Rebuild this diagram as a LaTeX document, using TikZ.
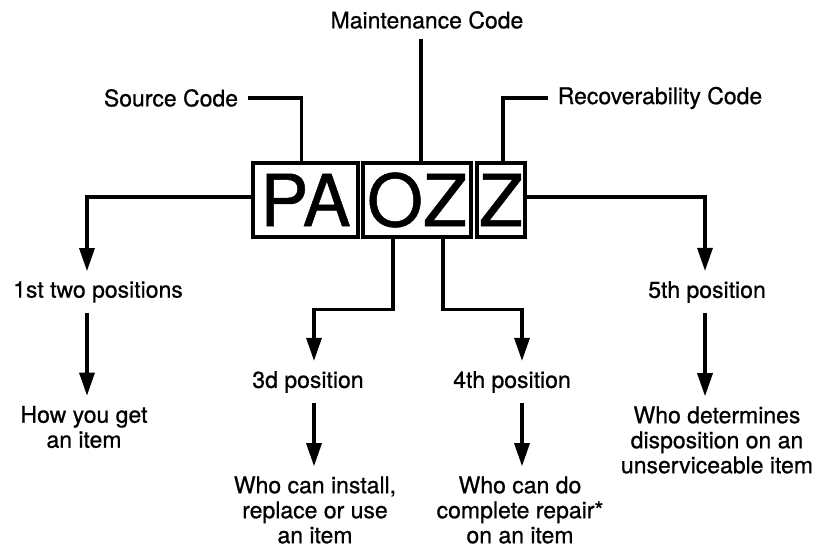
\documentclass[tikz,border=0pt]{standalone}
\usepackage{fontspec}
\setmainfont{TeX Gyre Heros}[FakeBold=0.7]
\usepackage{tikz}
\usetikzlibrary{arrows.meta,calc}
\tikzset{
        lbl/.style={inner sep=10pt,align=center,font=\fontsize{23}{25}\selectfont},
        codebox/.style={draw,line width=3.2pt,inner sep=0pt,minimum height=74pt,font=\fontsize{72}{72}\selectfont},
        arr/.style={line width=3.2pt,-{Triangle[length=23pt,width=15pt]}},
        ln/.style={line width=3.2pt}
}
\begin{document}
\begin{tikzpicture}[x=1pt,y=1pt]
        \useasboundingbox (0,0) rectangle (822,551);
        \node[codebox,minimum width=105pt] (pa) at (305.5,351) {PA};
        \node[codebox,minimum width=108pt] (oz) at (417,351) {OZ};
        \node[codebox,minimum width=48pt] (z) at (501,351) {Z};
        \node[lbl] (mnt) at (427,531) {Maintenance Code};
        \node[lbl] (src) at (171,453) {Source Code};
        \node[lbl] (rec) at (660,453) {Recoverability Code};
        \node[lbl] (p1) at (98,259) {1st two positions};
        \node[lbl] (d1) at (84,124) {How you get\\an item};
        \node[lbl] (p3) at (308,169) {3d position};
        \node[lbl] (d3) at (315,41) {Who can install,\\replace or use\\an item};
        \node[lbl] (p4) at (512,169) {4th position};
        \node[lbl] (d4) at (520,41) {Who can do\\complete repair*\\on an item};
        \node[lbl] (p5) at (707,259) {5th position};
        \node[lbl] (d5) at (717,111) {Who determines\\disposition on an\\unserviceable item};
        \draw[ln] (src) -| ([xshift=-4pt]pa.north);
        \draw[ln] ([xshift=4pt]oz.north) -- ([xshift=4pt]oz.north |- mnt.south);
        \draw[ln] (rec) -| ([xshift=2pt]z.north);
        \draw[arr] ([yshift=3pt]pa.west) -| ([xshift=-11pt]p1.north);
        \draw[arr] ([yshift=3pt]z.east) -| ([xshift=-2pt]p5.north);
        \draw[arr] ([xshift=-24pt]oz.south) -- ++(0,-71) -| ([xshift=6pt]p3.north);
        \draw[arr] ([xshift=26pt]oz.south) -- ++(0,-71) -| ([xshift=10pt]p4.north);
        \draw[arr] ([xshift=-11pt]p1.south) -- ([xshift=-11pt]p1.south |- d1.north);
        \draw[arr] ([xshift=6pt]p3.south) -- ([xshift=6pt]p3.south |- d3.north);
        \draw[arr] ([xshift=10pt]p4.south) -- ([xshift=10pt]p4.south |- d4.north);
        \draw[arr] ([xshift=-2pt]p5.south) -- ([xshift=-2pt]p5.south |- d5.north);
\end{tikzpicture}
\end{document}
